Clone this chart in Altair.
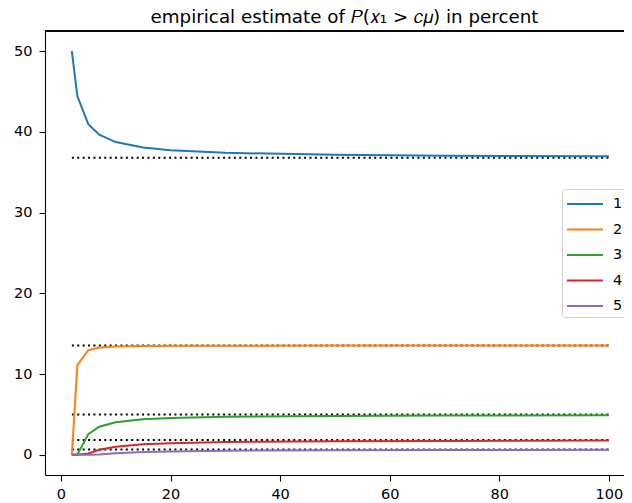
import altair as alt
import pandas as pd

# sample sizes n on the x axis
n_values = [2, 3, 5, 7, 10, 15, 20, 30, 50, 70, 100]
# empirical estimates (percent) for c = 1..5
p_c1 = [50.0, 44.44, 40.96, 39.66, 38.74, 38.07, 37.74, 37.41, 37.16, 37.05, 36.97]
p_c2 = [0.0, 11.11, 12.96, 13.28, 13.42, 13.49, 13.51, 13.52, 13.53, 13.53, 13.53]
p_c3 = [0.0, 0.0, 2.56, 3.48, 4.04, 4.40, 4.56, 4.71, 4.82, 4.87, 4.90]
p_c4 = [0.0, 0.0, 0.16, 0.62, 1.01, 1.30, 1.44, 1.58, 1.68, 1.72, 1.76]
p_c5 = [0.0, 0.0, 0.0, 0.05, 0.20, 0.34, 0.42, 0.51, 0.57, 0.60, 0.62]
series_names = ["1", "2", "3", "4", "5"]
# theoretical limits exp(-c) in percent (dotted lines)
limit_values = [36.79, 13.53, 4.98, 1.83, 0.67]
limit_start = [2, 2, 2, 2, 2]
limit_end = [100, 100, 100, 100, 100]
colors = ["#1f77b4", "#ff7f0e", "#2ca02c", "#d62728", "#9467bd"]
x_ticks = [0, 20, 40, 60, 80, 100]
y_ticks = [0, 10, 20, 30, 40, 50]

rows = []
for name, vals in zip(series_names, [p_c1, p_c2, p_c3, p_c4, p_c5]):
    for n, v in zip(n_values, vals):
        rows.append({"n": n, "value": v, "c": name})
df = pd.DataFrame(rows)
df_lim = pd.DataFrame({"x": limit_start, "x2": limit_end, "y": limit_values})

W, H = 579, 444
FONT = "DejaVu Sans"

xscale = alt.Scale(domain=[-2.9, 102.75], nice=False, zero=False)
yscale = alt.Scale(domain=[-2.5, 52.5], nice=False, zero=False)

lines = alt.Chart(df).mark_line(strokeWidth=2, clip=True).encode(
    x=alt.X("n:Q", scale=xscale,
            axis=alt.Axis(values=x_ticks, title=None, grid=False, tickSize=6,
                          labelPadding=6)),
    y=alt.Y("value:Q", scale=yscale,
            axis=alt.Axis(values=y_ticks, title=None, grid=False, tickSize=6,
                          labelPadding=7)),
    color=alt.Color("c:N", scale=alt.Scale(domain=series_names, range=colors),
                    legend=alt.Legend(title=None, orient="none", legendX=517, legendY=158,
                                      symbolType="M-1,0H2.6", symbolSize=400,
                                      symbolStrokeWidth=2, labelOffset=25,
                                      labelFontSize=14.5, labelFont=FONT, labelColor="black",
                                      rowPadding=7.5, padding=4, strokeColor="#d0d0d0",
                                      fillColor="rgba(255,255,255,0.85)", cornerRadius=3)),
)

limits = alt.Chart(df_lim).mark_rule(color="black", strokeWidth=2,
                                     strokeDash=[2, 3.4]).encode(
    x=alt.X("x:Q", scale=xscale),
    x2="x2:Q",
    y=alt.Y("y:Q", scale=yscale),
)

top_frame = alt.Chart(df_lim).mark_rule(color="black", strokeWidth=1.1).encode(
    x=alt.value(0), x2=alt.value(W), y=alt.value(0)
)

chart = alt.layer(limits, lines, top_frame).properties(
    width=W,
    height=H,
    autosize=alt.AutoSizeParams(type="none"),
    padding={"left": 37, "top": 23, "right": 0, "bottom": 25},
    title=alt.TitleParams("empirical estimate of 𝑃(𝑥₁ > 𝑐𝜇) in percent", fontSize=18.3,
                          font=FONT, fontWeight="normal", color="black", offset=3,
                          anchor="middle", dx=10),
).configure_view(stroke=None).configure_axis(
    labelFont=FONT, labelFontSize=14.5, labelColor="black", tickColor="black",
    domainColor="black", domainWidth=1.1, tickWidth=1.1,
)

chart.save("out.html", embed_options={"renderer": "svg", "actions": False})
